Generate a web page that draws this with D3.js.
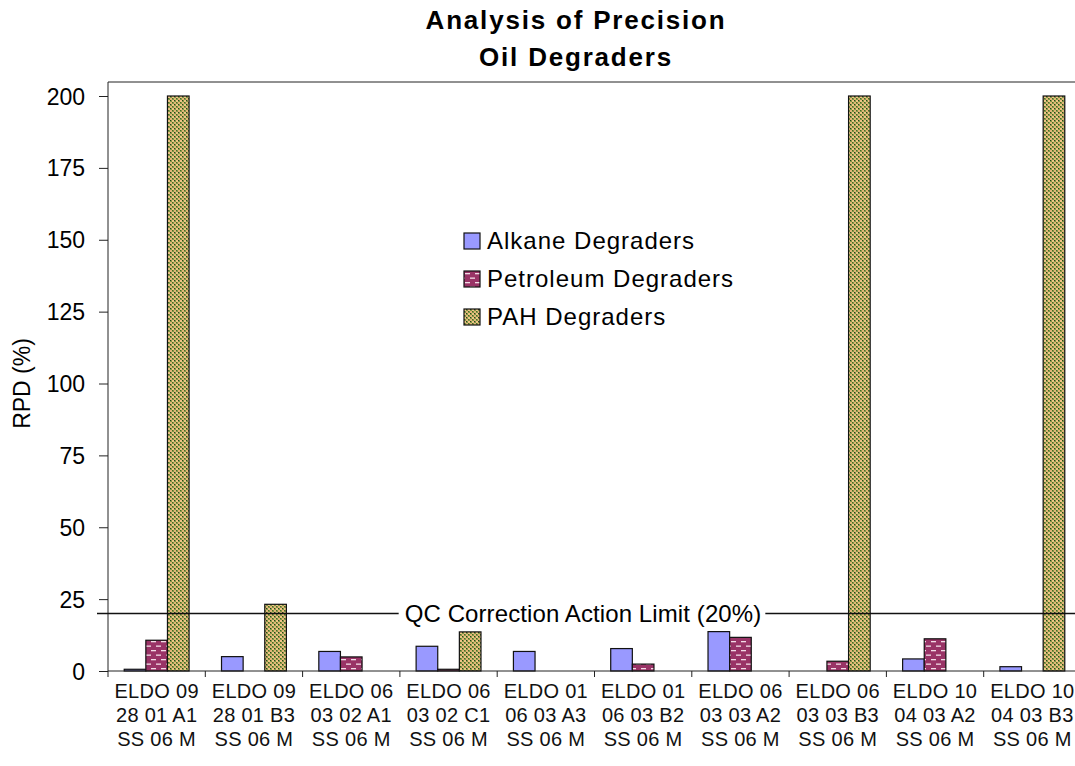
<!DOCTYPE html>
<html>
<head>
<meta charset="utf-8">
<script src="https://cdn.jsdelivr.net/npm/d3@7"></script>
<style>
  html, body { margin: 0; padding: 0; background: #fff; }
  svg { display: block; font-family: "Liberation Sans", Arial, sans-serif; }
</style>
</head>
<body>
<svg id="chart" width="1075" height="766"></svg>
<script>
// Sample identifiers (three text lines per category label)
const samples = [
  ["ELDO 09", "28 01 A1", "SS 06 M"],
  ["ELDO 09", "28 01 B3", "SS 06 M"],
  ["ELDO 06", "03 02 A1", "SS 06 M"],
  ["ELDO 06", "03 02 C1", "SS 06 M"],
  ["ELDO 01", "06 03 A3", "SS 06 M"],
  ["ELDO 01", "06 03 B2", "SS 06 M"],
  ["ELDO 06", "03 03 A2", "SS 06 M"],
  ["ELDO 06", "03 03 B3", "SS 06 M"],
  ["ELDO 10", "04 03 A2", "SS 06 M"],
  ["ELDO 10", "04 03 B3", "SS 06 M"]
];
const seriesNames = ["Alkane Degraders", "Petroleum Degraders", "PAH Degraders"];

// RPD (%) per sample
const alkane    = [0.6, 5.0, 6.8, 8.6, 6.8, 7.8, 13.7, 0, 4.2, 1.5];
const petroleum = [10.7, 0, 4.9, 0.6, 0, 2.4, 11.7, 3.4, 11.2, 0];
const pah       = [200, 23.2, 0, 13.6, 0, 0, 0, 200, 0, 200];

const yTicks = [0, 25, 50, 75, 100, 125, 150, 175, 200];
const qcLimit = 20;
const qcLabel = "QC Correction Action Limit (20%)";
const title = ["Analysis of Precision", "Oil Degraders"];
const yTitle = "RPD (%)";

const svg = d3.select("#chart");
const left = 108, right = 1081, bottom = 671, frameTop = 82;

const cats = samples.map((d, i) => i);
const x0 = d3.scaleBand().domain(cats).range([left, right]).paddingInner(0).paddingOuter(0);
const x1 = d3.scaleBand().domain(seriesNames).range([0, x0.bandwidth()])
  .paddingInner(0).paddingOuter(0.75);
const y = d3.scaleLinear().domain([0, 200]).range([bottom, 96]);

// Fill patterns
const defs = svg.append("defs");
const pet = defs.append("pattern").attr("id", "petPat")
  .attr("patternUnits", "userSpaceOnUse").attr("width", 10).attr("height", 9);
pet.append("rect").attr("width", 10).attr("height", 9).attr("fill", "#993366");
pet.append("rect").attr("x", 1).attr("y", 2).attr("width", 5).attr("height", 1.3).attr("fill", "#f2dbe6");
pet.append("rect").attr("x", 6).attr("y", 6.5).attr("width", 5).attr("height", 1.3).attr("fill", "#f2dbe6");
pet.append("rect").attr("x", -4).attr("y", 6.5).attr("width", 5).attr("height", 1.3).attr("fill", "#f2dbe6");

const pahP = defs.append("pattern").attr("id", "pahPat")
  .attr("patternUnits", "userSpaceOnUse").attr("width", 4).attr("height", 4);
pahP.append("rect").attr("width", 4).attr("height", 4).attr("fill", "#7f9846");
pahP.append("rect").attr("x", 0).attr("y", 0).attr("width", 2).attr("height", 2).attr("fill", "#efc486");
pahP.append("rect").attr("x", 2).attr("y", 2).attr("width", 2).attr("height", 2).attr("fill", "#e2b677");
pahP.append("rect").attr("x", 2).attr("y", 0).attr("width", 1).attr("height", 1).attr("fill", "#2f3d1c");
pahP.append("rect").attr("x", 0).attr("y", 2).attr("width", 1).attr("height", 1).attr("fill", "#4c6526");

const fills = {
  "Alkane Degraders": "#9999ff",
  "Petroleum Degraders": "url(#petPat)",
  "PAH Degraders": "url(#pahPat)"
};
const valuesBySeries = {
  "Alkane Degraders": alkane,
  "Petroleum Degraders": petroleum,
  "PAH Degraders": pah
};

// Bars
const barData = [];
seriesNames.forEach(s => valuesBySeries[s].forEach((v, i) => {
  if (v > 0) barData.push({ s, i, v });
}));
svg.append("g").selectAll("rect").data(barData).join("rect")
  .attr("x", d => x0(d.i) + x1(d.s))
  .attr("y", d => y(d.v))
  .attr("width", x1.bandwidth())
  .attr("height", d => y(0) - y(d.v))
  .attr("fill", d => fills[d.s])
  .attr("stroke", "#111")
  .attr("stroke-width", 1.2);

// Plot frame top and right
svg.append("line").attr("x1", left).attr("x2", right).attr("y1", frameTop).attr("y2", frameTop)
  .attr("stroke", "#222").attr("stroke-width", 1);
svg.append("line").attr("x1", right).attr("x2", right).attr("y1", frameTop).attr("y2", bottom)
  .attr("stroke", "#222").attr("stroke-width", 1);

// Y axis
const yAxis = svg.append("g").attr("transform", `translate(${left},0)`)
  .call(d3.axisLeft(y).tickValues(yTicks).tickSize(9).tickPadding(14).tickFormat(d3.format("d")));
yAxis.select(".domain").attr("d", `M0,${frameTop}V${bottom}`).attr("stroke", "#222");
yAxis.selectAll(".tick line").attr("stroke", "#222");
yAxis.selectAll(".tick text").attr("font-size", 23).attr("fill", "#000")
  .attr("font-family", "Liberation Sans, Arial, sans-serif").attr("dy", "0.35em");

// X axis
const xAxis = svg.append("g").attr("transform", `translate(0,${bottom})`);
xAxis.append("line").attr("x1", left).attr("x2", right).attr("stroke", "#222");
xAxis.selectAll("line.tk").data(d3.range(samples.length + 1)).join("line").attr("class", "tk")
  .attr("x1", i => left + i * x0.step()).attr("x2", i => left + i * x0.step())
  .attr("y1", 0).attr("y2", 6).attr("stroke", "#222");
const xl = xAxis.selectAll("text").data(samples).join("text")
  .attr("x", (d, i) => x0(i) + x0.bandwidth() / 2)
  .attr("y", 27)
  .attr("text-anchor", "middle")
  .attr("font-size", 20)
  .attr("letter-spacing", 0.3)
  .attr("fill", "#111");
xl.selectAll("tspan").data(d => d).join("tspan")
  .attr("x", function () { return d3.select(this.parentNode).attr("x"); })
  .attr("dy", (d, j) => j === 0 ? 0 : 24)
  .text(d => d);

// Y axis title
svg.append("text")
  .attr("transform", `translate(30,${y(100)}) rotate(-90)`)
  .attr("text-anchor", "middle")
  .attr("font-size", 23)
  .attr("fill", "#000")
  .text(yTitle);

// Chart title
svg.append("text").attr("x", 576).attr("text-anchor", "middle")
  .attr("font-weight", "bold").attr("font-size", 26).attr("letter-spacing", 1.8)
  .selectAll("tspan").data(title).join("tspan")
  .attr("x", 576).attr("y", (d, i) => 29 + i * 37).text(d => d);

// QC action limit line, broken around its label
const qcY = y(qcLimit);
const qcText = svg.append("text").attr("x", 583).attr("y", qcY + 8)
  .attr("text-anchor", "middle").attr("font-size", 24).attr("letter-spacing", 0.1).attr("fill", "#000")
  .text(qcLabel);
const bb = qcText.node().getBBox();
svg.append("line").attr("x1", left - 11).attr("x2", bb.x - 6).attr("y1", qcY).attr("y2", qcY)
  .attr("stroke", "#111").attr("stroke-width", 1.3);
svg.append("line").attr("x1", bb.x + bb.width + 4).attr("x2", right).attr("y1", qcY).attr("y2", qcY)
  .attr("stroke", "#111").attr("stroke-width", 1.3);

// Legend
const legend = svg.append("g").attr("transform", "translate(464,233)");
const li = legend.selectAll("g").data(seriesNames).join("g")
  .attr("transform", (d, i) => `translate(0,${i * 38})`);
li.append("rect").attr("width", 16).attr("height", 16)
  .attr("fill", d => fills[d]).attr("stroke", "#111").attr("stroke-width", 1.2);
li.append("text").attr("x", 23).attr("y", 16).attr("font-size", 24).attr("letter-spacing", 1.0)
  .attr("fill", "#000").text(d => d);
</script>
</body>
</html>
